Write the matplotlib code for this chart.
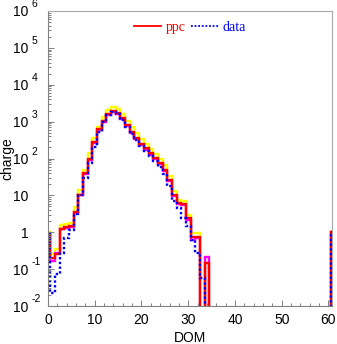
import numpy as np
import matplotlib
matplotlib.use('Agg')
import matplotlib.pyplot as plt
from matplotlib.ticker import FixedLocator, FixedFormatter, MultipleLocator, LogLocator, NullFormatter

plt.rcParams['font.family'] = ['Liberation Sans', 'DejaVu Sans']

# DOM number 0..61, one bin per DOM
dom = np.arange(62)

ppc = [0.95, 0.2, 0.26, 1.2, 1.35, 1.5, 3.6, 10.5, 40, 100,
       280, 620, 1050, 1650, 1900, 1700, 1230, 800, 530, 370,
       255, 187, 138, 105, 75, 50, 26, 10, 6.3, 5.8,
       2.4, 0.76, 0.74, 0, 0.145, 0, 0, 0, 0, 0,
       0, 0, 0, 0, 0, 0, 0, 0, 0, 0,
       0, 0, 0, 0, 0, 0, 0, 0, 0, 0,
       0, 1]
ppc_hi = [1.0, 0.25, 0.35, 1.57, 1.67, 1.83, 4.7, 14, 50, 138,
          350, 725, 1350, 2040, 2500, 2200, 1600, 1050, 700, 480,
          330, 240, 180, 135, 100, 65, 34, 13, 7.5, 7.2,
          3.0, 0.95, 0.95, 0, 0.21, 0, 0, 0, 0, 0,
          0, 0, 0, 0, 0, 0, 0, 0, 0, 0,
          0, 0, 0, 0, 0, 0, 0, 0, 0, 0,
          0, 1]
ppc_lo = [0.9, 0.17, 0.28, 1.25, 1.3, 1.38, 3.4, 10, 37, 93,
          260, 580, 980, 1550, 1780, 1600, 1150, 750, 495, 345,
          238, 175, 128, 98, 70, 45, 24, 9.5, 6.0, 5.5,
          2.2, 0.6, 0.7, 0, 0.21, 0, 0, 0, 0, 0,
          0, 0, 0, 0, 0, 0, 0, 0, 0, 0,
          0, 0, 0, 0, 0, 0, 0, 0, 0, 0,
          0, 1]
data = [1.0, 0.022, 0.074, 0.28, 0.68, 1.15, 3.2, 10, 29, 74,
        210, 530, 980, 1500, 1870, 1600, 1100, 720, 470, 320,
        225, 160, 118, 88, 60, 38, 18, 7, 4.5, 2.4,
        1.5, 0.6, 0.27, 0.057, 0, 0, 0, 0, 0, 0,
        0, 0, 0, 0, 0, 0, 0, 0, 0, 0,
        0, 0, 0, 0, 0, 0, 0, 0, 0, 0,
        0, 1]

edges = np.append(dom - 0.5, dom[-1] + 0.5)

fig = plt.figure(figsize=(3.37, 3.44), dpi=100)
ax = fig.add_axes([48/337, 1-306/344, 284/337, 295/344])
ax.set_yscale('log')

lw = 1.7
ax.stairs(ppc_hi, edges, baseline=None, color='#ffff00', lw=lw)
ax.stairs(ppc_lo, edges, baseline=None, color='#ff00ff', lw=lw)
ax.stairs(ppc, edges, baseline=None, color='#ff0000', lw=lw, label='ppc')
ax.stairs(data, edges, baseline=None, color='#0000ff', lw=lw,
          linestyle=(0, (1, 1)), label='data')

ax.set_xlim(0, 60.75)
ax.set_ylim(1e-2, 1e6)

# axes frame
for s in ['left', 'bottom']:
    ax.spines[s].set_color('#808080')
    ax.spines[s].set_linewidth(0.8)
for s in ['top', 'right']:
    ax.spines[s].set_color('#a8a8a8')
    ax.spines[s].set_linewidth(0.8)

ax.xaxis.set_major_locator(MultipleLocator(10))
ax.xaxis.set_minor_locator(MultipleLocator(2))
ax.tick_params(axis='x', which='major', direction='in', length=4, width=0.7,
               color='#808080', labelsize=10, pad=5)
ax.tick_params(axis='x', which='minor', direction='in', length=2.2, width=0.7,
               color='#808080')

exps = [-2, -1, 0, 1, 2, 3, 4, 5, 6]
ax.yaxis.set_major_locator(FixedLocator([10.0**e for e in exps]))
base = ['1' if e == 0 else '10' for e in exps]
ax.yaxis.set_major_formatter(FixedFormatter(base))
ax.yaxis.set_minor_locator(LogLocator(base=10, subs=np.arange(2, 10)))
ax.yaxis.set_minor_formatter(NullFormatter())
ax.tick_params(axis='y', which='major', direction='in', length=4, width=0.7,
               color='#808080', labelsize=10, pad=14)
ax.tick_params(axis='y', which='minor', direction='in', length=2.2, width=0.7,
               color='#808080')
for e in exps:
    if e in (0, 1):
        continue
    ax.annotate('%d' % e, xy=(0, 10.0**e), xycoords=ax.get_yaxis_transform(),
                xytext=(-12, 5), textcoords='offset points',
                ha='left', va='center', fontsize=7.5, annotation_clip=False)

ax.set_xlabel('DOM', fontsize=10)
ax.set_ylabel('charge', fontsize=10)
ax.xaxis.set_label_coords(0.5, -0.085)
ax.yaxis.set_label_coords(-0.12, 0.5)

leg = ax.legend(loc='upper center', ncol=2, frameon=False,
                handlelength=2.0, handletextpad=0.3, columnspacing=0.4,
                borderaxespad=0.3, labelcolor='linecolor',
                prop={'family': 'Liberation Serif', 'size': 10})
for h in leg.get_lines():
    h.set_linewidth(1.3)

fig.savefig('out.png', dpi=100)
